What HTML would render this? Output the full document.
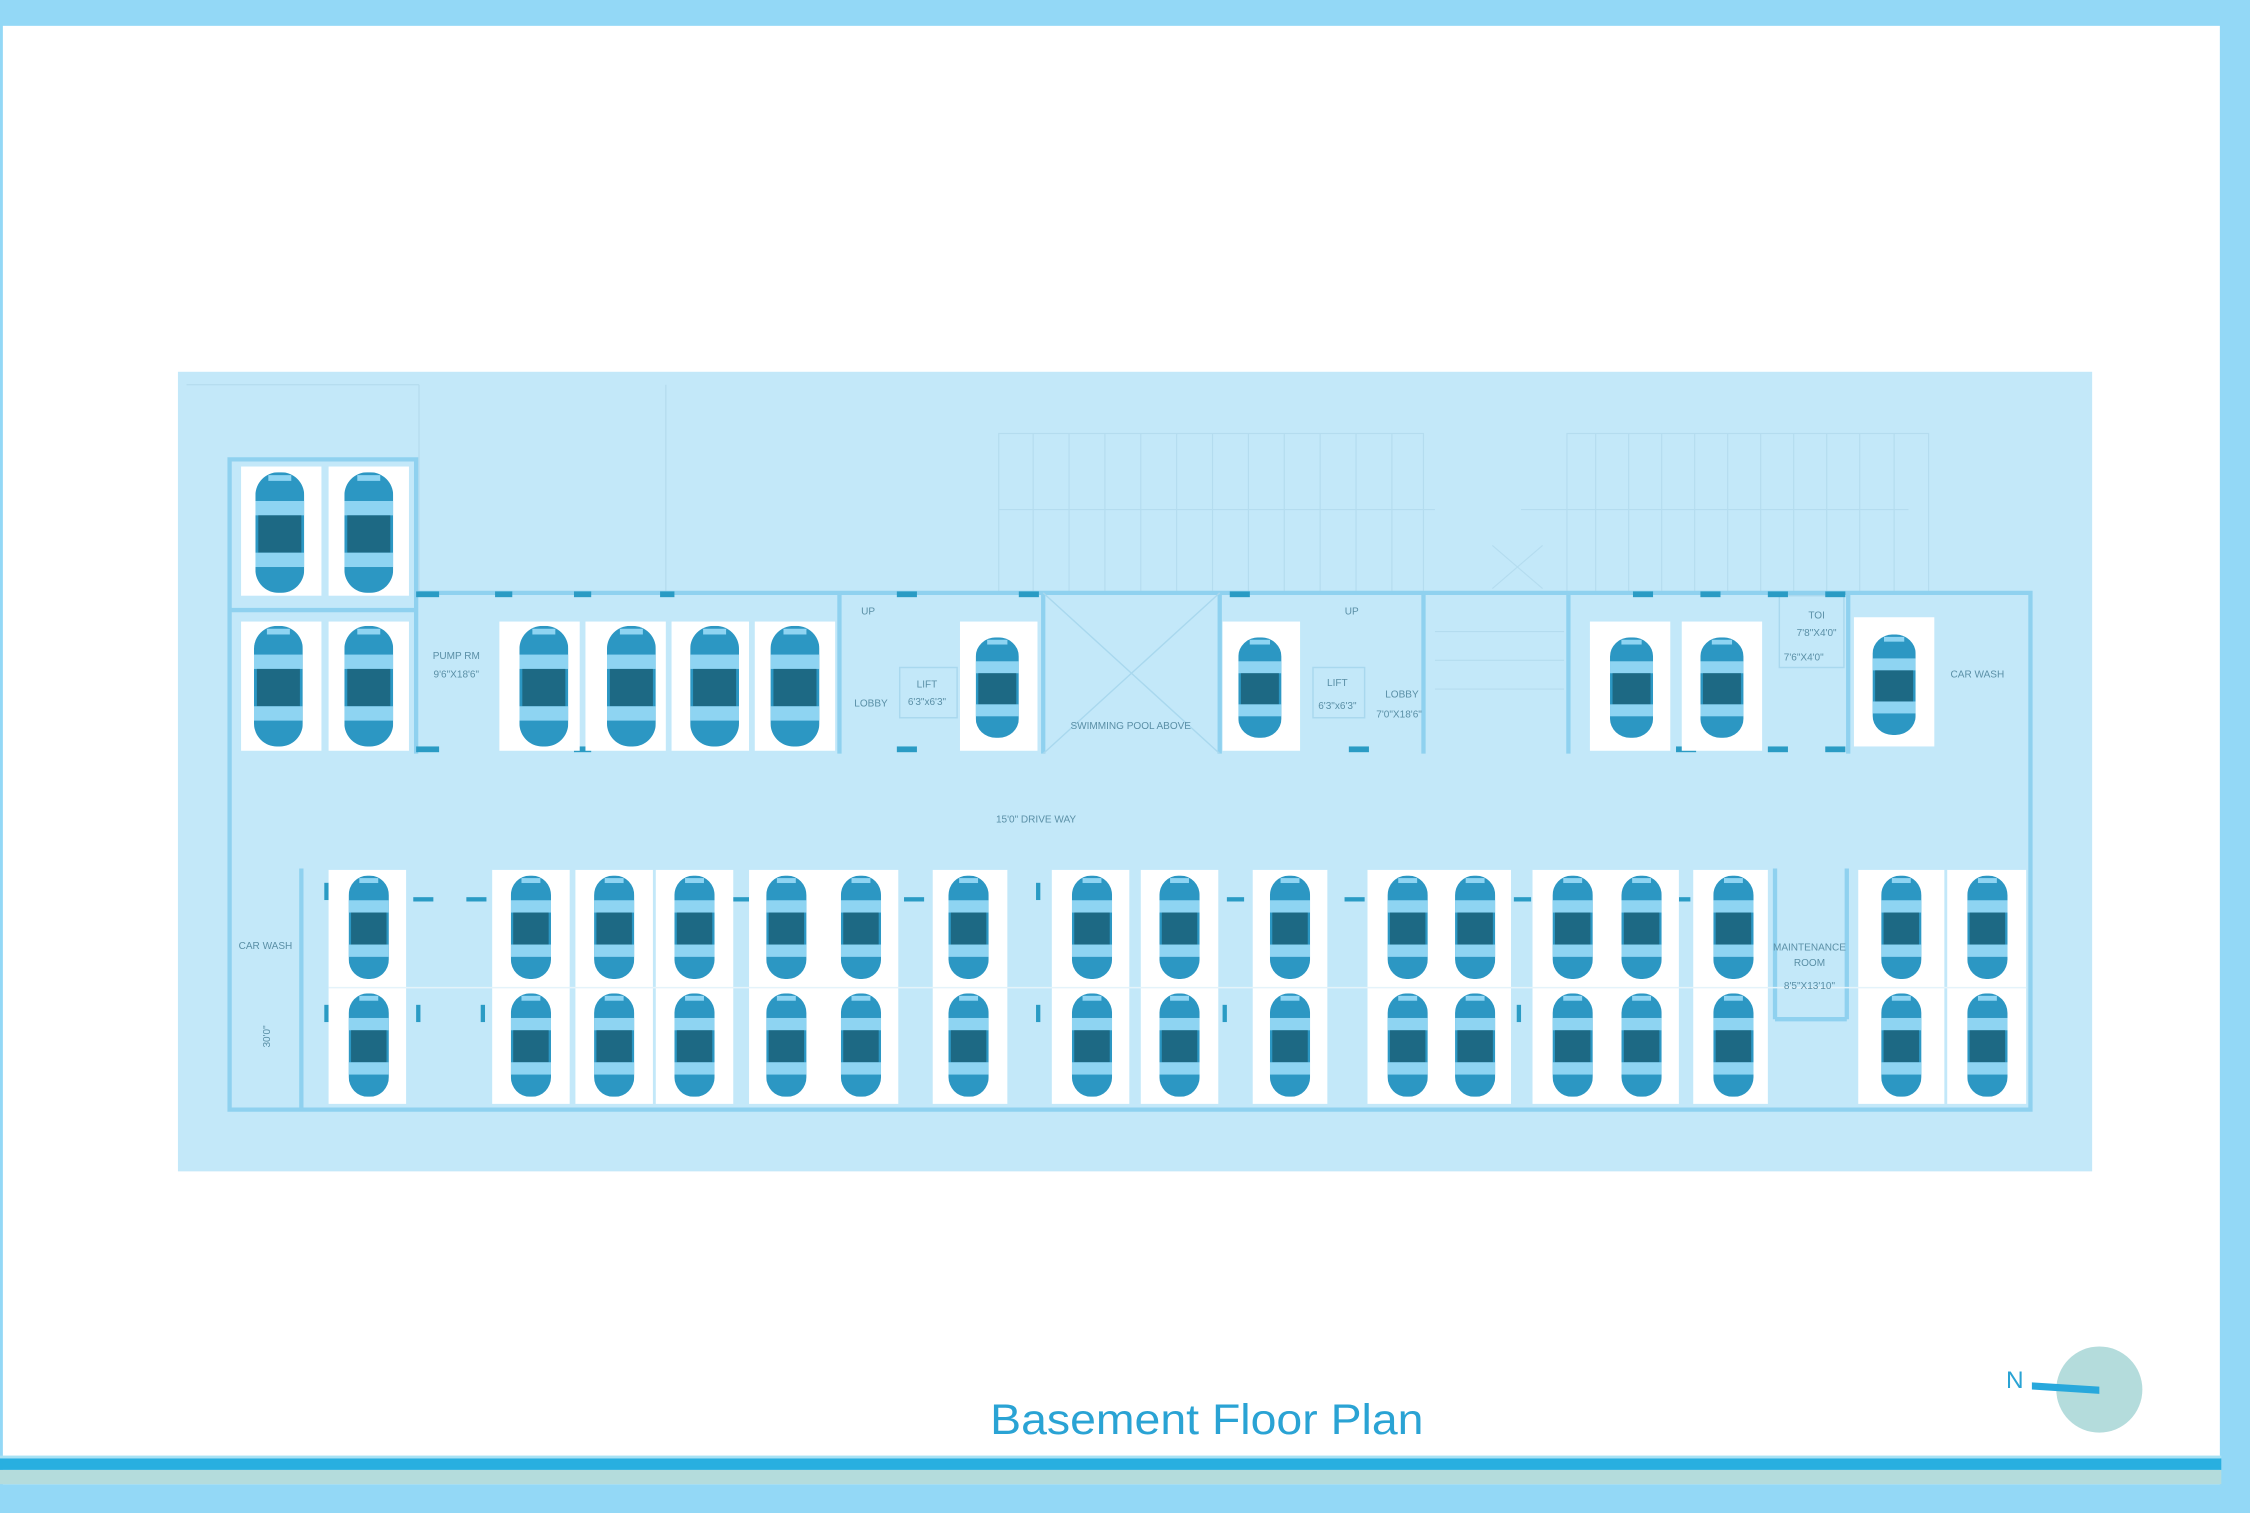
<!DOCTYPE html>
<html><head><meta charset="utf-8"><style>
html,body{margin:0;padding:0;background:#fff}
svg{display:block}
text{font-family:"Liberation Sans",sans-serif}
</style></head><body>
<svg width="2250" height="1513" viewBox="0 0 1568 1054" preserveAspectRatio="none" xmlns="http://www.w3.org/2000/svg">
<defs>
<symbol id="car" viewBox="0 0 34 84" preserveAspectRatio="none">
<rect x="0" y="0" width="34" height="84" rx="16" fill="#2c97c3"/>
<rect x="0" y="20" width="34" height="10" fill="#8ed4f2"/>
<rect x="2" y="30" width="30" height="26" fill="#1d6984"/>
<rect x="0" y="56" width="34" height="10" fill="#8ed4f2"/>
<rect x="9" y="2" width="16" height="4" fill="#8ed4f2"/>
</symbol>
</defs>
<rect width="1568" height="1054" fill="#fff"/>
<rect x="0" y="0" width="1568" height="18" fill="#93d8f6"/>
<rect x="0" y="0" width="2" height="1054" fill="#93d8f6"/>
<rect x="1547" y="0" width="21" height="1054" fill="#93d8f6"/>
<rect x="0" y="1014" width="1548" height="2" fill="#a8e2f4"/>
<rect x="0" y="1016" width="1548" height="8" fill="#28afe0"/>
<rect x="0" y="1024" width="1548" height="10" fill="#b4dcdc"/>
<rect x="0" y="1034" width="1568" height="20" fill="#93d8f6"/>

<rect x="124" y="259" width="1334" height="557" fill="#c3e8f9"/>
<line x1="292" y1="268" x2="292" y2="413" stroke="#b6ddef" stroke-width="1"/>
<line x1="464" y1="268" x2="464" y2="413" stroke="#b6ddef" stroke-width="1"/>
<line x1="130" y1="268" x2="292" y2="268" stroke="#b6ddef" stroke-width="1"/>
<g stroke="#b4dcef" stroke-width="0.8" fill="none">
<rect x="696" y="302" width="296" height="110"/>
<rect x="1092" y="302" width="252" height="110"/>
<line x1="696" y1="355" x2="1000" y2="355"/>
<line x1="1060" y1="355" x2="1330" y2="355"/>
<line x1="720" y1="302" x2="720" y2="412"/><line x1="745" y1="302" x2="745" y2="412"/><line x1="770" y1="302" x2="770" y2="412"/><line x1="795" y1="302" x2="795" y2="412"/><line x1="820" y1="302" x2="820" y2="412"/><line x1="845" y1="302" x2="845" y2="412"/><line x1="870" y1="302" x2="870" y2="412"/><line x1="895" y1="302" x2="895" y2="412"/><line x1="920" y1="302" x2="920" y2="412"/><line x1="945" y1="302" x2="945" y2="412"/><line x1="970" y1="302" x2="970" y2="412"/>
<line x1="1112" y1="302" x2="1112" y2="412"/><line x1="1135" y1="302" x2="1135" y2="412"/><line x1="1158" y1="302" x2="1158" y2="412"/><line x1="1181" y1="302" x2="1181" y2="412"/><line x1="1204" y1="302" x2="1204" y2="412"/><line x1="1227" y1="302" x2="1227" y2="412"/><line x1="1250" y1="302" x2="1250" y2="412"/><line x1="1273" y1="302" x2="1273" y2="412"/><line x1="1296" y1="302" x2="1296" y2="412"/><line x1="1320" y1="302" x2="1320" y2="412"/>
<line x1="1000" y1="440" x2="1090" y2="440"/><line x1="1000" y1="460" x2="1090" y2="460"/><line x1="1000" y1="480" x2="1090" y2="480"/>
<line x1="1040" y1="380" x2="1075" y2="410"/><line x1="1040" y1="410" x2="1075" y2="380"/>
</g>

<g fill="none" stroke="#8fd1ef" stroke-width="3">
<path d="M160 320 H290 V413 H1415 V773 H160 Z"/>
<line x1="290" y1="413" x2="290" y2="525"/>
<line x1="160" y1="425" x2="290" y2="425"/>
<line x1="585" y1="413" x2="585" y2="525"/>
<line x1="727" y1="413" x2="727" y2="525"/>
<line x1="850" y1="413" x2="850" y2="525"/>
<line x1="992" y1="413" x2="992" y2="525"/>
<line x1="1093" y1="413" x2="1093" y2="525"/>
<line x1="1288" y1="413" x2="1288" y2="525"/>
<line x1="210" y1="605" x2="210" y2="773"/>
<line x1="1237" y1="605" x2="1237" y2="710"/>
<line x1="1287" y1="605" x2="1287" y2="710"/>
<line x1="1237" y1="710" x2="1287" y2="710"/>
</g>
<g stroke="#a9d8ee" stroke-width="1" fill="none">
<line x1="727" y1="413" x2="850" y2="525"/><line x1="850" y1="413" x2="727" y2="525"/>
<rect x="627" y="465" width="40" height="35"/>
<rect x="915" y="465" width="36" height="35"/>
<rect x="1240" y="415" width="45" height="50"/>
</g>
<g fill="#2a9bc4">
<rect x="290" y="412" width="16" height="4"/><rect x="345" y="412" width="12" height="4"/><rect x="400" y="412" width="12" height="4"/><rect x="460" y="412" width="10" height="4"/>
<rect x="290" y="520" width="16" height="4"/><rect x="400" y="520" width="12" height="4"/><rect x="625" y="520" width="14" height="4"/><rect x="625" y="412" width="14" height="4"/>
<rect x="710" y="412" width="14" height="4"/><rect x="857" y="412" width="14" height="4"/><rect x="940" y="520" width="14" height="4"/>
<rect x="1138" y="412" width="14" height="4"/><rect x="1185" y="412" width="14" height="4"/><rect x="1232" y="412" width="14" height="4"/><rect x="1272" y="412" width="14" height="4"/>
<rect x="1168" y="520" width="14" height="4"/><rect x="1232" y="520" width="14" height="4"/><rect x="1272" y="520" width="14" height="4"/>
<rect x="288" y="625" width="14" height="3"/><rect x="325" y="625" width="14" height="3"/><rect x="510" y="625" width="12" height="3"/><rect x="630" y="625" width="14" height="3"/><rect x="855" y="625" width="12" height="3"/><rect x="937" y="625" width="14" height="3"/><rect x="1055" y="625" width="12" height="3"/><rect x="1170" y="625" width="8" height="3"/>
<rect x="226" y="615" width="3" height="12"/><rect x="226" y="700" width="3" height="12"/><rect x="290" y="700" width="3" height="12"/><rect x="335" y="700" width="3" height="12"/><rect x="722" y="615" width="3" height="12"/><rect x="722" y="700" width="3" height="12"/><rect x="852" y="700" width="3" height="12"/><rect x="1057" y="700" width="3" height="12"/>
</g>

<g fill="#fff">
<rect x="168" y="325" width="56" height="90"/><rect x="229" y="325" width="56" height="90"/>
<rect x="168" y="433" width="56" height="90"/><rect x="229" y="433" width="56" height="90"/>
<rect x="348" y="433" width="56" height="90"/><rect x="408" y="433" width="56" height="90"/><rect x="468" y="433" width="54" height="90"/><rect x="526" y="433" width="56" height="90"/>
<rect x="669" y="433" width="54" height="90"/><rect x="852" y="433" width="54" height="90"/>
<rect x="1108" y="433" width="56" height="90"/><rect x="1172" y="433" width="56" height="90"/><rect x="1292" y="430" width="56" height="90"/>
</g>
<g fill="#fff">
<rect x="229" y="606" width="54" height="163"/>
<rect x="343" y="606" width="54" height="163"/><rect x="401" y="606" width="54" height="163"/><rect x="457" y="606" width="54" height="163"/>
<rect x="522" y="606" width="104" height="163"/>
<rect x="650" y="606" width="52" height="163"/>
<rect x="733" y="606" width="54" height="163"/><rect x="795" y="606" width="54" height="163"/>
<rect x="873" y="606" width="52" height="163"/>
<rect x="953" y="606" width="100" height="163"/>
<rect x="1068" y="606" width="102" height="163"/>
<rect x="1180" y="606" width="52" height="163"/>
<rect x="1295" y="606" width="60" height="163"/><rect x="1357" y="606" width="55" height="163"/>
</g>
<g stroke="#e4f3fa" stroke-width="1"><line x1="229" y1="688" x2="1412" y2="688"/></g>

<use href="#car" x="178" y="329" width="34" height="84"/><use href="#car" x="240" y="329" width="34" height="84"/>
<use href="#car" x="177" y="436" width="34" height="84"/><use href="#car" x="240" y="436" width="34" height="84"/>
<use href="#car" x="362" y="436" width="34" height="84"/><use href="#car" x="423" y="436" width="34" height="84"/><use href="#car" x="481" y="436" width="34" height="84"/><use href="#car" x="537" y="436" width="34" height="84"/>
<use href="#car" x="680" y="444" width="30" height="70"/><use href="#car" x="863" y="444" width="30" height="70"/>
<use href="#car" x="1122" y="444" width="30" height="70"/><use href="#car" x="1185" y="444" width="30" height="70"/><use href="#car" x="1305" y="442" width="30" height="70"/>
<g>
<use href="#car" x="243" y="610" width="28" height="72"/><use href="#car" x="243" y="692" width="28" height="72"/>
<use href="#car" x="356" y="610" width="28" height="72"/><use href="#car" x="356" y="692" width="28" height="72"/>
<use href="#car" x="414" y="610" width="28" height="72"/><use href="#car" x="414" y="692" width="28" height="72"/>
<use href="#car" x="470" y="610" width="28" height="72"/><use href="#car" x="470" y="692" width="28" height="72"/>
<use href="#car" x="534" y="610" width="28" height="72"/><use href="#car" x="534" y="692" width="28" height="72"/>
<use href="#car" x="586" y="610" width="28" height="72"/><use href="#car" x="586" y="692" width="28" height="72"/>
<use href="#car" x="661" y="610" width="28" height="72"/><use href="#car" x="661" y="692" width="28" height="72"/>
<use href="#car" x="747" y="610" width="28" height="72"/><use href="#car" x="747" y="692" width="28" height="72"/>
<use href="#car" x="808" y="610" width="28" height="72"/><use href="#car" x="808" y="692" width="28" height="72"/>
<use href="#car" x="885" y="610" width="28" height="72"/><use href="#car" x="885" y="692" width="28" height="72"/>
<use href="#car" x="967" y="610" width="28" height="72"/><use href="#car" x="967" y="692" width="28" height="72"/>
<use href="#car" x="1014" y="610" width="28" height="72"/><use href="#car" x="1014" y="692" width="28" height="72"/>
<use href="#car" x="1082" y="610" width="28" height="72"/><use href="#car" x="1082" y="692" width="28" height="72"/>
<use href="#car" x="1130" y="610" width="28" height="72"/><use href="#car" x="1130" y="692" width="28" height="72"/>
<use href="#car" x="1194" y="610" width="28" height="72"/><use href="#car" x="1194" y="692" width="28" height="72"/>
<use href="#car" x="1311" y="610" width="28" height="72"/><use href="#car" x="1311" y="692" width="28" height="72"/>
<use href="#car" x="1371" y="610" width="28" height="72"/><use href="#car" x="1371" y="692" width="28" height="72"/>
</g>

<g fill="#5a8fa6" font-size="7" text-anchor="middle">
<text x="318" y="459">PUMP RM</text><text x="318" y="472">9'6"X18'6"</text>
<text x="605" y="428">UP</text><text x="942" y="428">UP</text>
<text x="607" y="492">LOBBY</text>
<text x="646" y="479">LIFT</text><text x="646" y="491">6'3"x6'3"</text>
<text x="932" y="478">LIFT</text><text x="932" y="494">6'3"x6'3"</text>
<text x="977" y="486">LOBBY</text><text x="975" y="500">7'0"X18'6"</text>
<text x="788" y="508">SWIMMING POOL ABOVE</text>
<text x="1266" y="431">TOI</text><text x="1266" y="443">7'8"X4'0"</text><text x="1257" y="460">7'6"X4'0"</text>
<text x="1378" y="472">CAR WASH</text>
<text x="722" y="573">15'0" DRIVE WAY</text>
<text x="185" y="661">CAR WASH</text>
<text x="1261" y="662">MAINTENANCE</text><text x="1261" y="673">ROOM</text><text x="1261" y="689">8'5"X13'10"</text>
<text x="188" y="722" transform="rotate(-90 188 722)">30'0"</text>
</g>

<text x="690" y="999" textLength="302" lengthAdjust="spacingAndGlyphs" font-size="30" fill="#2aa3d4" font-family="'DejaVu Sans',sans-serif">Basement Floor Plan</text>
<ellipse cx="1463" cy="968" rx="30" ry="30" fill="#b4dcdc"/>
<text x="1398" y="967" font-size="17" fill="#2aa3d4" font-family="'DejaVu Sans',sans-serif">N</text>
<polygon points="1416,963 1463,966 1463,971 1416,968" fill="#28a8dc"/>
</svg>
</body></html>
